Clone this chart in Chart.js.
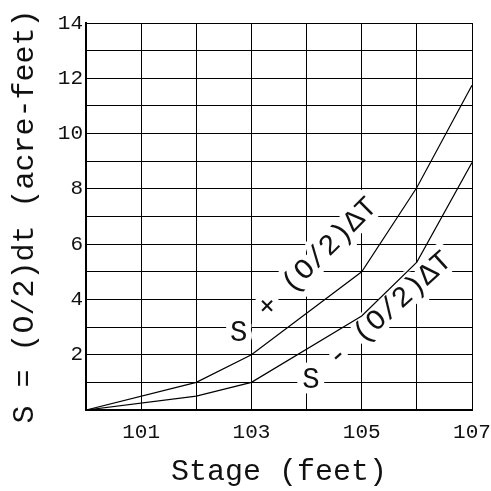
<!DOCTYPE html>
<html>
<head>
<meta charset="utf-8">
<script src="https://cdn.jsdelivr.net/npm/chart.js@4/dist/chart.umd.min.js"></script>
<style>
  html, body { margin: 0; padding: 0; background: #fff; }
  #wrap { width: 491px; height: 491px; }
</style>
</head>
<body>
<div id="wrap"><canvas id="c" width="491" height="491"></canvas></div>
<script>
// Stage (feet) at which the storage-indication values are tabulated
const stages = [100, 102, 103, 105, 106, 107];
// S + (O/2)dT, acre-feet
const upperValues = [0, 1, 2, 5, 8.05, 11.75];
// S - (O/2)dT, acre-feet
const lowerValues = [0, 0.5, 1, 3.4, 5.35, 8.95];

const xTickLabels = [101, 103, 105, 107];
const yTickLabels = [2, 4, 6, 8, 10, 12, 14];

const FONT = "'Liberation Mono', 'DejaVu Sans Mono', monospace";

// Curve captions written along each line (data-space anchors)
const curveCaptions = [
  { lead: 'S', leadAt: [102.77, 2.77], rest: '+ (O/2)\u0394T', restAt: [104.2, 5.5], angle: -45 },
  { lead: 'S', leadAt: [104.08, 1.085], rest: '- (O/2)\u0394T', restAt: [105.51, 3.64], angle: -42 }
];

const toPoints = (xs, ys) => xs.map((x, i) => ({ x, y: ys[i] }));

const captionPlugin = {
  id: 'curveCaptions',
  beforeDatasetsDraw(chart) {
    const { ctx, scales } = chart;
    const xs = scales.x, ys = scales.y;
    ctx.save();
    ctx.font = '29px ' + FONT;
    ctx.textAlign = 'center';
    ctx.textBaseline = 'middle';
    ctx.lineJoin = 'round';
    const put = (text, px, py, angleDeg) => {
      ctx.save();
      ctx.translate(px, py);
      ctx.rotate(angleDeg * Math.PI / 180);
      ctx.strokeStyle = '#fff';
      ctx.lineWidth = 12;
      ctx.strokeText(text, 0, 0);
      ctx.fillStyle = '#111';
      ctx.fillText(text, 0, 0);
      ctx.restore();
    };
    curveCaptions.forEach(c => {
      put(c.lead, xs.getPixelForValue(c.leadAt[0]), ys.getPixelForValue(c.leadAt[1]), 0);
      put(c.rest, xs.getPixelForValue(c.restAt[0]), ys.getPixelForValue(c.restAt[1]), c.angle);
    });
    ctx.restore();
  }
};

new Chart(document.getElementById('c'), {
  type: 'line',
  data: {
    datasets: [
      { label: 'S + (O/2)\u0394T', data: toPoints(stages, upperValues),
        borderColor: '#000', borderWidth: 1.2, pointRadius: 0, tension: 0, fill: false },
      { label: 'S - (O/2)\u0394T', data: toPoints(stages, lowerValues),
        borderColor: '#000', borderWidth: 1.2, pointRadius: 0, tension: 0, fill: false }
    ]
  },
  options: {
    responsive: false,
    animation: false,
    devicePixelRatio: 1,
    layout: { padding: { top: 23, right: 19, left: 0, bottom: 0 } },
    plugins: { legend: { display: false }, tooltip: { enabled: false } },
    scales: {
      x: {
        type: 'linear', min: 100, max: 107,
        afterFit(scale) { scale.height = 81; scale.paddingLeft = 0; scale.paddingRight = 0; },
        grid: { color: '#000', lineWidth: 1, drawTicks: false },
        border: { color: '#000', width: 2 },
        ticks: {
          stepSize: 1, padding: 10, color: '#111', maxRotation: 0, autoSkip: false,
          font: { family: FONT, size: 21 },
          callback: v => (xTickLabels.includes(v) ? String(v) : '')
        },
        title: {
          display: true, text: 'Stage (feet)', color: '#111',
          font: { family: FONT, size: 30 }, padding: { top: 0, bottom: 1 }
        }
      },
      y: {
        type: 'linear', min: 0, max: 14,
        afterFit(scale) { scale.width = 86; scale.paddingTop = 0; scale.paddingBottom = 0; },
        grid: { color: '#000', lineWidth: 1, drawTicks: false },
        border: { color: '#000', width: 2 },
        ticks: {
          stepSize: 1, padding: 3, color: '#111', autoSkip: false,
          font: { family: FONT, size: 21 },
          callback: v => (yTickLabels.includes(v) ? String(v) : '')
        },
        title: {
          display: true, text: 'S = (O/2)dt (acre-feet)', color: '#111',
          font: { family: FONT, size: 30 }, padding: { top: 7, bottom: 0 }
        }
      }
    }
  },
  plugins: [captionPlugin]
});
</script>
</body>
</html>
